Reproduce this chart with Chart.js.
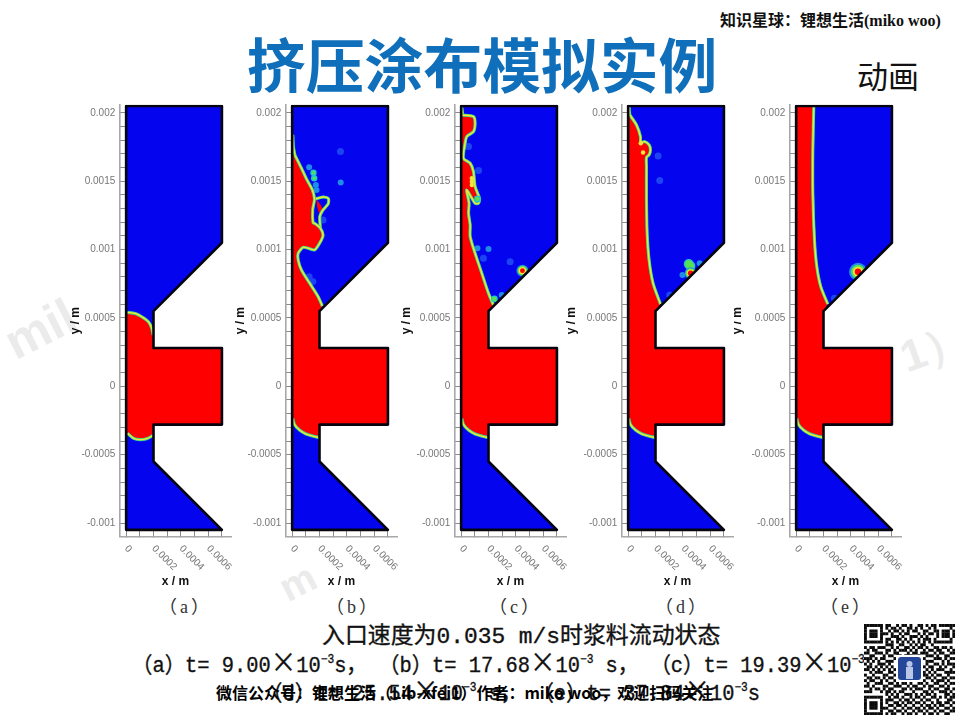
<!DOCTYPE html>
<html lang="zh"><head><meta charset="utf-8">
<title>挤压涂布模拟实例</title>
<script src="https://cdn.jsdelivr.net/npm/chart.js@4/dist/chart.umd.min.js"></script>
<style>
html,body{margin:0;padding:0;background:#fff;}
body{position:relative;width:960px;height:720px;overflow:hidden;font-family:"Noto Sans CJK SC",sans-serif;}
.t{position:absolute;white-space:nowrap;line-height:1;}
canvas.panel{position:absolute;filter:blur(0.45px);}
.wm{position:absolute;font:bold 50px "Liberation Sans",sans-serif;color:#ebebeb;transform:rotate(-27deg);white-space:nowrap;}
.hei{font-family:"Liberation Mono","Noto Sans CJK SC",monospace;color:#111;-webkit-text-stroke:.35px #111;transform-origin:left center;}
.hei sup{font-size:.55em;line-height:0;vertical-align:.75em;}
.hei i{font-family:"Noto Sans CJK SC";font-style:normal;font-size:1.25em;line-height:0;}
.cap{font:18px 'Liberation Serif','Noto Sans CJK SC',serif;color:#333;letter-spacing:3px;top:592px;}
#qr{position:absolute;left:864px;top:624px;width:91px;height:91px;background:#fff;filter:blur(.35px);}
</style></head><body>
<div class="wm" style="left:4px;top:300px;">mil</div>
<div class="wm" style="left:280px;top:560px;font-size:40px;">m</div>
<div class="wm" style="left:900px;top:318px;transform:rotate(-20deg);font-size:44px;">1）</div>
<div class="t" style="left:720px;top:7px;font:bold 16px 'Liberation Serif','Noto Sans CJK SC',serif;color:#111;">知识星球：锂想生活(miko woo)</div>
<div class="t" style="left:247px;top:34px;font-size:58.8px;font-weight:700;color:#0f6fba;">挤压涂布模拟实例</div>
<div class="t" style="left:857px;top:59px;font-size:31px;color:#111;">动画</div>
<div class="t cap" style="left:159px;">（a）</div>
<div class="t cap" style="left:326px;">（b）</div>
<div class="t cap" style="left:489px;">（c）</div>
<div class="t cap" style="left:655px;">（d）</div>
<div class="t cap" style="left:820px;">（e）</div>
<div class="t hei" style="left:322px;top:626px;font-size:22.9px;">入口速度为0.035 m/s时浆料流动状态</div>
<div class="t hei" style="left:132px;top:656px;font-size:22px;transform:scaleX(.927);">（a）t= 9.00<i>×</i>10<sup>−3</sup>s， （b）t= 17.68<i>×</i>10<sup>−3</sup> s， （c）t= 19.39<i>×</i>10<sup>−3</sup>s，</div>
<div class="t hei" style="left:262px;top:684px;font-size:22px;transform:scaleX(.927);">（d）t= 25.54<i>×</i>10<sup>−3</sup> s， （e）t= 37.84<i>×</i>10<sup>−3</sup>s</div>
<div class="t" style="left:216px;top:684px;font-size:16px;font-weight:700;color:#000;">微信公众号：锂想生活（Lib-xfei1）作者：miko woo，欢迎扫码关注</div>
<canvas id="qr" width="91" height="91"></canvas>

<canvas class="panel" id="pa" width="185" height="500"></canvas>
<canvas class="panel" id="pb" width="185" height="500"></canvas>
<canvas class="panel" id="pc" width="185" height="500"></canvas>
<canvas class="panel" id="pd" width="185" height="500"></canvas>
<canvas class="panel" id="pe" width="185" height="500"></canvas>

<script>
/* ---------- axes ---------- */
const xTickValues = [0,0.0001,0.0002,0.0003,0.0004,0.0005,0.0006,0.0007];
const xTickLabels = [0,0.0002,0.0004,0.0006];
const yTickValues = [-0.001,-0.0009,-0.0008,-0.0007,-0.0006,-0.0005,-0.0004,-0.0003,-0.0002,-0.0001,0,0.0001,0.0002,0.0003,0.0004,0.0005,0.0006,0.0007,0.0008,0.0009,0.001,0.0011,0.0012,0.0013,0.0014,0.0015,0.0016,0.0017,0.0018,0.0019,0.002];
const yTickLabels = [-0.001,-0.0005,0,0.0005,0.001,0.0015,0.002];

/* ---------- geometry in micrometres, [x, y] ---------- */
const wallOutline = [[0,-1050],[700,-1050],[200,-550],[200,-280],[700,-280],[700,280],[200,280],[200,550],[700,1050],[700,2050],[0,2050],[0,-1050]];
const slotWall = [[200,-280],[700,-280],[700,280],[200,280],[200,550]];

/* liquid fronts */
const lowerFront = [[0,-225],[5,-235],[17,-279],[54,-320],[102,-349],[151,-364],[195,-374],[200,-375]];
const frontATop = [[0,541],[10,541],[66,533],[114,509],[163,472],[187,424],[197,375]];
const frontABottom = [[0,-335],[10,-344],[54,-380],[102,-390],[151,-383],[195,-361],[200,-358]];
const frontB = [[20,1692],[68,1595],[109,1509],[148,1436],[163,1368],[150,1290],[153,1197],[168,1190],[207,1156],[226,1107],[207,1058],[165,998],[117,1010],[80,1017],[44,973],[44,924],[68,851],[129,753],[190,656],[221,587]];
const frontC = [[5,1985],[90,1973],[102,1924],[90,1863],[41,1827],[29,1778],[17,1668],[66,1632],[90,1571],[102,1461],[134,1375],[127,1339],[102,1339],[41,1436],[58,1339],[54,1266],[66,1180],[66,1095],[102,973],[151,827],[200,680],[236,595]];
const frontD = [[12,1985],[61,1912],[90,1827],[92,1785],[122,1790],[153,1766],[163,1729],[153,1693],[134,1675],[134,1607],[134,1363],[139,1119],[153,924],[182,754],[236,602]];
const frontE = [[129,2050],[122,1729],[122,1412],[134,1071],[151,876],[180,729],[231,602]];
const topCapB = [[0,1692]];
const topCapC = [[0,1985]];
const topCapD = [[0,1985]];
const topCapE = [[0,2050]];
const thinB = [[5,1840],[10,1750],[20,1692]];
const thinC = [[5,2040],[12,1985]];
const thinD = [[8,2045],[8,2030],[12,1985]];
const ridgeB = [[207,1156],[202,1241],[226,1290],[263,1334],[265,1373],[230,1385],[175,1372],[163,1368]];
const pocketB = [[178,1368],[214,1319],[221,1290],[197,1266],[182,1315],[178,1368]];

/* droplets and faint spots */
const faintB = [[353,1717],[226,1217],[124,802],[151,766]];
const cyanB = [[124,1602],[355,1490],[173,1473],[178,1436]];
const greenB = [[156,1563],[161,1522]];
const faintC = [[163,936],[127,1578],[54,1754],[358,912]];
const cyanC = [[119,1010],[200,1005],[297,668]];
const greenC = [[119,1371],[243,639]];
const yellowC = [[78,1522],[78,1497],[78,1473]];
const noduleC = [448,846];
const faintD = [[219,1685],[231,1505],[304,668]];
const cyanD = [[523,900],[397,815]];
const greenD = [[443,895],[455,880]];
const yellowD = [[92,1778],[109,1710]];
const noduleD = [457,827];
const faintE = [[280,644]];
const noduleE = [452,838];

/* ---------- styles ---------- */
const BLUE='#0404ee', RED='#ff0000', CYAN='#20c8c8', GREEN='#58e050', YELLOW='#f4e43c', FAINT='#1c44f2', SPOT_CYAN='#1f8ce8';
const AXIS='#a8a8a8', TICKTXT='#777';
const um = p => ({x:p[0]*1e-6, y:p[1]*1e-6});

function polyLayer(pts,color){return {data:pts.map(um),showLine:true,fill:'shape',backgroundColor:color,borderColor:color,borderWidth:0,pointRadius:0};}
function lineLayers(pts){
  const l=(c,w)=>({data:pts.map(um),showLine:true,fill:false,borderColor:c,borderWidth:w,pointRadius:0,tension:.25,clipDomain:true});
  return [l(CYAN,3.1),l(GREEN,2.3),l(YELLOW,1.4)];
}
function spotLayer(pts,color,r){return {data:pts.map(um),backgroundColor:color,borderWidth:0,pointBorderWidth:0,pointRadius:r,clipDomain:true};}

const clipToWall = {
  id:'clipToWall',
  beforeDatasetDraw(chart,args){
    if(!chart.data.datasets[args.index].clipDomain) return;
    const {x,y}=chart.scales, c=chart.ctx;
    c.save();c.beginPath();
    wallOutline.forEach((p,i)=>{const a=x.getPixelForValue(p[0]*1e-6),b=y.getPixelForValue(p[1]*1e-6);i?c.lineTo(a,b):c.moveTo(a,b);});
    c.clip();
  },
  afterDatasetDraw(chart,args){
    if(chart.data.datasets[args.index].clipDomain) chart.ctx.restore();
  }
};

function fmt(v){return String(parseFloat(v.toFixed(5)));}
const near=(list,v)=>list.some(t=>Math.abs(t-v)<1e-7);

function panel(id,originPx,yTitleBottomPad,layers){
  const canvas=document.getElementById(id);
  canvas.style.left=(originPx-62)+'px';
  canvas.style.top='95px';
  const all=[polyLayer(wallOutline,BLUE),...layers,
    {data:wallOutline.map(um),showLine:true,fill:false,borderColor:'#050510',borderWidth:2.6,pointRadius:0,borderJoinStyle:'round',borderCapStyle:'round'}];
  all.forEach((d,i)=>{d.order=all.length-i;});
  new Chart(canvas,{
    type:'scatter',
    data:{datasets:all},
    plugins:[clipToWall],
    options:{
      responsive:false,animation:false,
      layout:{padding:{top:9.7,right:17.5,left:0,bottom:0}},
      plugins:{legend:{display:false},tooltip:{enabled:false},title:{display:false}},
      scales:{
        x:{type:'linear',position:'bottom',min:-0.00005,max:0.00077,
          border:{color:AXIS,width:1.6},
          grid:{drawOnChartArea:false,drawTicks:true,tickLength:-6.8,tickColor:'#8c8c8c',tickWidth:1},
          beforeUpdate(s){s._getXAxisLabelAlignment=()=>'left';},
          afterBuildTicks(s){s.ticks=xTickValues.map(v=>({value:v}));},
          afterFit(s){s.height=58.3;s.paddingLeft=s.paddingRight=s.paddingTop=s.paddingBottom=0;},
          ticks:{minRotation:-45,maxRotation:-45,autoSkip:false,padding:13,color:TICKTXT,font:{family:'Liberation Sans',size:10},
            callback:v=>near(xTickLabels,v)?fmt(v):''},
          title:{display:true,text:'x / m',color:'#111',font:{family:'Liberation Sans',size:12,weight:'bold'},padding:{top:0,bottom:6}}
        },
        y:{type:'linear',position:'left',min:-0.0011,max:0.00206,
          border:{color:AXIS,width:1.6},
          grid:{drawOnChartArea:false,drawTicks:true,tickLength:-6.8,tickColor:'#8c8c8c',tickWidth:1},
          afterBuildTicks(s){s.ticks=yTickValues.map(v=>({value:v}));},
          afterFit(s){s.width=55.3;s.paddingLeft=s.paddingRight=s.paddingTop=s.paddingBottom=0;},
          ticks:{autoSkip:false,padding:10.8,color:TICKTXT,font:{family:'Liberation Sans',size:10},
            callback:v=>near(yTickLabels,v)?fmt(v):''},
          title:{display:true,text:'y / m',color:'#111',font:{family:'Liberation Sans',size:12,weight:'bold'},padding:{top:yTitleBottomPad,bottom:0}}
        }
      }
    }
  });
}

function nodule(c,radii){return [spotLayer([c],SPOT_CYAN,radii[0]),spotLayer([c],GREEN,radii[1]),spotLayer([c],YELLOW,radii[2]),spotLayer([c],RED,radii[3])];}
function redShape(front,cap){return polyLayer([...lowerFront,...slotWall,...front.slice().reverse(),...cap,lowerFront[0]],RED);}

/* (a) */
panel('pa',126,4,[
  polyLayer([...frontABottom,...slotWall.slice(0,4),...frontATop.slice().reverse(),frontABottom[0]],RED),
  ...lineLayers(frontATop.slice(1)),...lineLayers(frontABottom.slice(1))
]);
/* (b) */
panel('pb',292.3,3,[
  spotLayer(faintB,FAINT,3.5),spotLayer(cyanB,SPOT_CYAN,3),spotLayer(greenB,CYAN,3.2),spotLayer(greenB,GREEN,1.6),
  redShape(frontB,topCapB),polyLayer(pocketB,RED),
  ...lineLayers(thinB),...lineLayers(ridgeB),...lineLayers(frontB),...lineLayers(lowerFront.slice(1))
]);
/* (c) */
panel('pc',461,0,[
  spotLayer(faintC,FAINT,3.5),spotLayer(cyanC,SPOT_CYAN,3),
  redShape(frontC,topCapC),
  ...lineLayers(thinC),...lineLayers(frontC),...lineLayers(lowerFront.slice(1)),
  spotLayer(greenC,CYAN,3.4),spotLayer(greenC,GREEN,2.2),spotLayer(yellowC,YELLOW,2.2),
  ...nodule(noduleC,[6,4.8,3.6,2.4])
]);
/* (d) */
panel('pd',628.3,-2,[
  spotLayer(faintD,FAINT,3.5),spotLayer(cyanD,SPOT_CYAN,3),spotLayer(greenD,CYAN,5),spotLayer(greenD,GREEN,3.6),
  redShape(frontD,topCapD),
  ...lineLayers(thinD),...lineLayers(frontD),...lineLayers(lowerFront.slice(1)),
  spotLayer(yellowD,YELLOW,2.2),
  ...nodule(noduleD,[6,5,3.8,2.8])
]);
/* (e) */
panel('pe',796,-4,[
  spotLayer(faintE,FAINT,3.5),
  redShape(frontE,topCapE),
  ...lineLayers(frontE),...lineLayers(lowerFront.slice(1)),
  ...nodule(noduleE,[9,7,5,3.2])
]);

/* ---------- QR-style corner picture ---------- */
const qrRows = [
"1111111011001011010011010110111111",
"1000001010110100110101001010000010",
"1011101001011010101100110011011101",
"1011101110100101100010101101011101",
"1011101000111010011101010001011101",
"1000001011001101010010111010000010",
"1111111010101010101010101011111110",
"0000000011100110010101100100000000",
"1011011100101001101011010011011010",
"0101100011010111010100101101100101",
"1100111010011000101101110010110011",
"0011000101101101110010011101001100",
"1110101100010010001011100011101011",
"0101010011101001110100011100010100",
"1010011101000000000001010011010111",
"0110101010100000000000101100101001",
"1101010101010000000000010101110010",
"0010111001100000000001101010001111",
"1001000110010000000000110101100100",
"0110110101100000000000011010011011",
"1011001010010000000000100101110100",
"0100111001101011010011010011001011",
"1101000110011100101100101100110100",
"0010110101100011010111001011001101",
"1110001011010110001000110100111010",
"0000000010101001110101011010001101",
"1111111001011010010110100110101011",
"1000001011100101101001011001000110",
"1011101010011010110110100101101101",
"1011101001101101001001011010110010",
"1011101110010010110110101101001101",
"1000001001101101001011010010110011",
"1111111010110010110100101101001100"];
(function(){
  const c=document.getElementById('qr').getContext('2d');
  c.fillStyle='#fff';c.fillRect(0,0,91,91);
  const n=qrRows.length,m=91/n;
  c.fillStyle='#0a0a0a';
  qrRows.forEach((r,j)=>{[...r].forEach((b,i)=>{if(b==='1')c.fillRect(i*91/r.length,j*m,91/r.length+.2,m+.2);});});
  c.fillStyle='#fff';c.fillRect(32,31,27,27);
  c.fillStyle='#24479a';c.beginPath();c.roundRect(34,33,23,23,3);c.fill();
  c.fillStyle='#b9c6e6';c.beginPath();c.arc(45.5,40,3,0,7);c.fill();c.fillRect(42,43,7,12);
})();
</script>
</body></html>
